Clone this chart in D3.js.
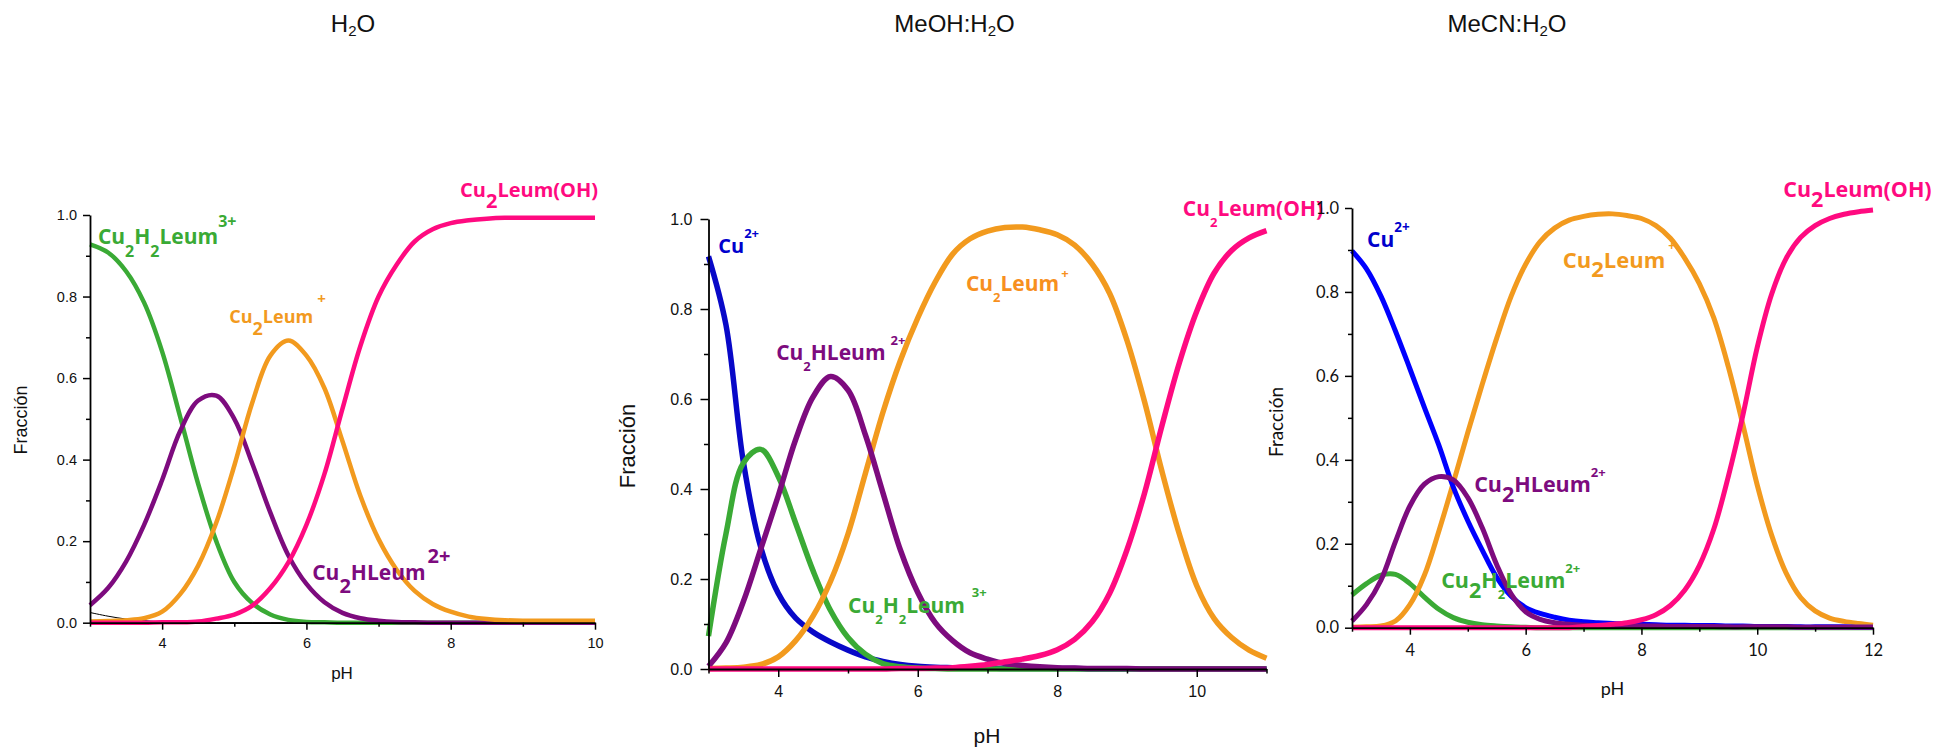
<!DOCTYPE html>
<html>
<head>
<meta charset="utf-8">
<script src="https://cdn.jsdelivr.net/npm/d3@7"></script>
<style>
	body { margin: 0; background: #fff; }
	svg { display: block; }
</style>
</head>
<body>
<svg id="chart" width="1933" height="749"></svg>
<script>
// ---- H2O ----
const phH2O = [3, 3.25, 3.5, 3.75, 4, 4.25, 4.5, 4.75, 5, 5.25, 5.5, 5.75, 6, 6.25, 6.5, 6.75, 7, 7.25, 7.5, 7.75, 8, 8.25, 8.5, 8.75, 9, 9.25, 9.5, 9.75, 10];
const h2oBlack = [0.025, 0.016, 0.009, 0.005, 0.002, 0.001, 0, 0, 0, 0, 0, 0, 0, 0, 0, 0, 0, 0, 0, 0, 0, 0, 0, 0, 0, 0, 0, 0, 0];
const h2oCu2H2L = [0.928, 0.908, 0.862, 0.785, 0.665, 0.505, 0.34, 0.2, 0.1, 0.048, 0.02, 0.007, 0.002, 0.001, 0, 0, 0, 0, 0, 0, 0, 0, 0, 0, 0, 0, 0, 0, 0];
const h2oCu2HL = [0.043, 0.085, 0.15, 0.24, 0.35, 0.47, 0.545, 0.557, 0.5, 0.39, 0.27, 0.165, 0.095, 0.05, 0.024, 0.011, 0.005, 0.002, 0.001, 0, 0, 0, 0, 0, 0, 0, 0, 0, 0];
const h2oCu2L = [0.003, 0.004, 0.006, 0.011, 0.027, 0.07, 0.14, 0.245, 0.385, 0.54, 0.655, 0.692, 0.655, 0.575, 0.445, 0.31, 0.205, 0.13, 0.078, 0.046, 0.027, 0.015, 0.009, 0.006, 0.005, 0.005, 0.005, 0.005, 0.005];
const h2oCu2LOH = [0, 0, 0, 0, 0.001, 0.001, 0.003, 0.01, 0.02, 0.042, 0.085, 0.148, 0.24, 0.365, 0.525, 0.68, 0.8, 0.878, 0.935, 0.965, 0.98, 0.987, 0.991, 0.993, 0.993, 0.993, 0.993, 0.993, 0.993];

// ---- MeOH:H2O ----
const phMeOH = [3, 3.25, 3.5, 3.75, 4, 4.25, 4.5, 4.75, 5, 5.25, 5.5, 5.75, 6, 6.25, 6.5, 6.75, 7, 7.25, 7.5, 7.75, 8, 8.25, 8.5, 8.75, 9, 9.25, 9.5, 9.75, 10, 10.25, 10.5, 10.75, 11];
const meohCu = [0.917, 0.765, 0.46, 0.27, 0.168, 0.113, 0.082, 0.06, 0.042, 0.027, 0.017, 0.01, 0.006, 0.004, 0.003, 0.002, 0.002, 0.001, 0.001, 0.001, 0.001, 0.001, 0, 0, 0, 0, 0, 0, 0, 0, 0, 0, 0];
const meohCu2H2L = [0.073, 0.3, 0.458, 0.488, 0.428, 0.324, 0.218, 0.13, 0.07, 0.033, 0.012, 0.005, 0.002, 0.001, 0, 0, 0, 0, 0, 0, 0, 0, 0, 0, 0, 0, 0, 0, 0, 0, 0, 0, 0];
const meohCu2L = [0.001, 0.002, 0.004, 0.01, 0.027, 0.063, 0.118, 0.195, 0.3, 0.435, 0.57, 0.685, 0.78, 0.86, 0.922, 0.956, 0.973, 0.981, 0.982, 0.976, 0.965, 0.942, 0.9, 0.835, 0.73, 0.595, 0.44, 0.3, 0.185, 0.112, 0.07, 0.042, 0.024];
const meohCu2HL = [0.006, 0.058, 0.15, 0.267, 0.385, 0.51, 0.605, 0.65, 0.62, 0.52, 0.392, 0.265, 0.17, 0.103, 0.063, 0.036, 0.022, 0.012, 0.008, 0.005, 0.003, 0.002, 0.001, 0.001, 0.001, 0, 0, 0, 0, 0, 0, 0, 0];
const meohCu2LOH = [0, 0, 0, 0, 0, 0, 0, 0, 0, 0, 0, 0.001, 0.001, 0.002, 0.003, 0.006, 0.01, 0.016, 0.022, 0.03, 0.043, 0.066, 0.105, 0.168, 0.265, 0.39, 0.54, 0.68, 0.795, 0.88, 0.93, 0.958, 0.974];

// ---- MeCN:H2O ----
const phMeCN = [3, 3.25, 3.5, 3.75, 4, 4.25, 4.5, 4.75, 5, 5.25, 5.5, 5.75, 6, 6.25, 6.5, 6.75, 7, 7.25, 7.5, 7.75, 8, 8.25, 8.5, 8.75, 9, 9.25, 9.5, 9.75, 10, 10.25, 10.5, 10.75, 11, 11.25, 11.5, 11.75, 12];
const mecnCu2H2L = [0.078, 0.105, 0.125, 0.127, 0.105, 0.073, 0.044, 0.024, 0.013, 0.007, 0.004, 0.002, 0.001, 0, 0, 0, 0, 0, 0, 0, 0, 0, 0, 0, 0, 0, 0, 0, 0, 0, 0, 0, 0, 0, 0, 0, 0];
const mecnCu2L = [0.001, 0.002, 0.004, 0.016, 0.055, 0.125, 0.23, 0.345, 0.465, 0.58, 0.69, 0.79, 0.866, 0.92, 0.952, 0.971, 0.98, 0.985, 0.986, 0.982, 0.975, 0.958, 0.928, 0.88, 0.82, 0.738, 0.622, 0.485, 0.34, 0.22, 0.13, 0.072, 0.04, 0.023, 0.015, 0.01, 0.006];
const mecnCu = [0.898, 0.855, 0.79, 0.707, 0.617, 0.525, 0.435, 0.335, 0.255, 0.185, 0.12, 0.075, 0.048, 0.034, 0.025, 0.018, 0.014, 0.012, 0.01, 0.009, 0.008, 0.007, 0.006, 0.006, 0.005, 0.005, 0.004, 0.004, 0.003, 0.003, 0.003, 0.002, 0.002, 0.002, 0.002, 0.001, 0.001];
const mecnCu2HL = [0.016, 0.055, 0.113, 0.205, 0.29, 0.342, 0.36, 0.352, 0.31, 0.238, 0.15, 0.08, 0.038, 0.02, 0.012, 0.008, 0.006, 0.005, 0.005, 0.004, 0.004, 0.004, 0.003, 0.003, 0.003, 0.003, 0.002, 0.002, 0.002, 0.002, 0.002, 0.001, 0.001, 0.001, 0.001, 0.001, 0.001];
const mecnCu2LOH = [0, 0, 0, 0, 0, 0, 0, 0, 0, 0, 0, 0, 0, 0, 0, 0, 0.003, 0.005, 0.008, 0.012, 0.019, 0.031, 0.053, 0.09, 0.148, 0.235, 0.36, 0.505, 0.668, 0.795, 0.88, 0.93, 0.958, 0.975, 0.985, 0.991, 0.995];

// ticks
const yTicks = [0, 0.2, 0.4, 0.6, 0.8, 1.0];
const yMinorTicks = [0.1, 0.3, 0.5, 0.7, 0.9];
const h2oXTicks = [4, 6, 8, 10];
const h2oXMinor = [3, 5, 7, 9];
const meohXTicks = [4, 6, 8, 10];
const meohXMinor = [3, 5, 7, 9, 11];
const mecnXTicks = [4, 6, 8, 10, 12];
const mecnXMinor = [3, 5, 7, 9, 11];

const titles = [["H", "2", "O"], ["MeOH:H", "2", "O"], ["MeCN:H", "2", "O"]];

const GREEN = "#3aaa35", PURPLE = "#7d0b7e", ORANGE = "#f29a1e", PINK = "#ff0a80";

class SpeciationPanel {
	constructor(svg, opts) {
		this.svg = svg;
		this.o = opts;
		this.x = d3.scaleLinear()
			.domain(opts.xDomain)
			.range(opts.xRange);
		this.y = d3.scaleLinear()
			.domain([0, 1])
			.range(opts.yRange);
		this.g = svg.append("g");
	}

	draw() {
		const o = this.o, x = this.x, y = this.y, g = this.g;
		const axisFont = o.axisFont;

		const line = d3.line()
			.x(d => x(d[0]))
			.y(d => Math.min(y(d[1]), o.yRange[0]))
			.curve(d3.curveCatmullRom.alpha(0.5));

		o.series.forEach(s => {
			g.append("path")
				.datum(o.ph.map((p, i) => [p, s.values[i]]))
				.attr("fill", "none")
				.attr("stroke", s.color)
				.attr("stroke-width", s.width || o.lineWidth)
				.attr("d", line);
		});

		// axes
		const xAxis = g.append("g")
			.attr("transform", `translate(0,${o.yRange[0]})`)
			.call(d3.axisBottom(x).tickValues(o.xTicks).tickSize(o.tick).tickSizeOuter(0)
				.tickPadding(o.xPad).tickFormat(d3.format("d")));
		g.append("g")
			.attr("transform", `translate(0,${o.yRange[0]})`)
			.call(d3.axisBottom(x).tickValues(o.xMinor).tickSize(o.minorTick).tickSizeOuter(0).tickFormat(""))
			.select(".domain").remove();

		const yAxis = g.append("g")
			.attr("transform", `translate(${o.xRange[0]},0)`)
			.call(d3.axisLeft(y).tickValues(yTicks).tickSize(o.tick).tickSizeOuter(0)
				.tickPadding(o.yPad).tickFormat(d3.format(".1f")));
		g.append("g")
			.attr("transform", `translate(${o.xRange[0]},0)`)
			.call(d3.axisLeft(y).tickValues(yMinorTicks).tickSize(o.minorTick).tickSizeOuter(0).tickFormat(""))
			.select(".domain").remove();

		g.selectAll(".domain").attr("stroke", "#000").attr("stroke-width", 1.8);
		g.selectAll(".tick line").attr("stroke", "#000").attr("stroke-width", 1.5);
		[xAxis, yAxis].forEach(a => a.selectAll("text")
			.attr("fill", "#111")
			.style("font-family", axisFont)
			.style("font-size", o.tickFont + "px"));

		// axis titles
		g.append("text")
			.attr("transform", `translate(${o.yTitle[0]},${o.yTitle[1]}) rotate(-90)`)
			.attr("text-anchor", "middle")
			.style("font-family", axisFont)
			.style("font-size", o.yTitleFont + "px")
			.attr("fill", "#111")
			.text("Fracción");

		g.append("text")
			.attr("x", o.xTitle[0])
			.attr("y", o.xTitle[1])
			.attr("text-anchor", "middle")
			.style("font-family", axisFont)
			.style("font-size", o.xTitleFont + "px")
			.attr("fill", "#111")
			.text("pH");

		// panel title
		const t = g.append("text")
			.attr("x", o.title[0])
			.attr("y", 31.5)
			.attr("text-anchor", "middle")
			.style("font-family", "'Liberation Sans', Arial, sans-serif")
			.style("font-size", "24px")
			.attr("fill", "#111");
		t.append("tspan").text(o.titleText[0]);
		t.append("tspan").attr("dy", 4.5).style("font-size", "15px").text(o.titleText[1]);
		t.append("tspan").attr("dy", -4.5).text(o.titleText[2]);

		// species labels
		o.labels.forEach(lab => {
			const txt = g.append("text")
				.attr("x", x(lab.ph))
				.attr("y", y(lab.v))
				.attr("fill", lab.color)
				.style("font-family", "'Open Sans', sans-serif")
				.style("font-weight", 700);
			let cur = 0;
			lab.parts.forEach(p => {
				txt.append("tspan")
					.attr("dy", p[2] - cur)
					.attr("dx", p[3] || 0)
					.style("font-size", p[1] + "px")
					.text(p[0]);
				cur = p[2];
			});
		});
	}
}

const svg = d3.select("#chart");
svg.append("rect").attr("width", 1933).attr("height", 749).attr("fill", "#fff");

const arial = "'Liberation Sans', Arial, sans-serif";

const panels = [
	new SpeciationPanel(svg, {
		ph: phH2O, xDomain: [3, 10], xRange: [90, 595], yRange: [622.7, 215],
		xTicks: h2oXTicks, xMinor: h2oXMinor, tick: 7, minorTick: 4, xPad: 8, yPad: 6,
		axisFont: arial, tickFont: 14.5, yTitleFont: 18, xTitleFont: 17,
		yTitle: [27, 420], xTitle: [342, 679], title: [353, 0], titleText: titles[0], lineWidth: 4.5,
		series: [
			{values: h2oBlack, color: "#000", width: 1},
			{values: h2oCu2H2L, color: GREEN},
			{values: h2oCu2HL, color: PURPLE},
			{values: h2oCu2L, color: ORANGE},
			{values: h2oCu2LOH, color: PINK}
		],
		labels: [
			{ph: 3.11, v: 0.929, color: GREEN, parts: [["Cu", 21, 0], ["2", 16, 13], ["H", 21, 0], ["2", 16, 13], ["Leum", 21, 0], ["3+", 16, -17]]},
			{ph: 4.93, v: 0.735, color: ORANGE, parts: [["Cu", 18, 0], ["2", 18, 12], ["Leum", 18, 0], ["+", 15, -19, 4]]},
			{ph: 8.13, v: 1.044, color: PINK, parts: [["Cu", 20, 0], ["2", 20, 11], ["Leum(OH)", 20, 0]]},
			{ph: 6.08, v: 0.105, color: PURPLE, parts: [["Cu", 21, 0], ["2", 20, 13], ["HLeum", 21, 0], ["2+", 20, -17, 2]]}
		]
	}),
	new SpeciationPanel(svg, {
		ph: phMeOH, xDomain: [3, 11], xRange: [708.5, 1266.5], yRange: [669, 219],
		xTicks: meohXTicks, xMinor: meohXMinor, tick: 8, minorTick: 4.5, xPad: 9, yPad: 8,
		axisFont: arial, tickFont: 16, yTitleFont: 22, xTitleFont: 21,
		yTitle: [635, 446], xTitle: [987, 743], title: [954.5, 0], titleText: titles[1], lineWidth: 5.5,
		series: [
			{values: meohCu, color: "#0808c8"},
			{values: meohCu2H2L, color: GREEN},
			{values: meohCu2L, color: ORANGE},
			{values: meohCu2HL, color: PURPLE},
			{values: meohCu2LOH, color: PINK}
		],
		labels: [
			{ph: 3.14, v: 0.924, color: "#0000cd", parts: [["Cu", 20, 0], ["2+", 13, -15]]},
			{ph: 3.97, v: 0.687, color: PURPLE, parts: [["Cu", 21, 0], ["2", 13, 11], ["HLeum", 21, 0], ["2+", 13, -15, 5]]},
			{ph: 6.69, v: 0.84, color: "#f7901e", parts: [["Cu", 21, 0], ["2", 13, 11], ["Leum", 21, 0], ["+", 13, -13, 2]]},
			{ph: 9.80, v: 1.007, color: PINK, parts: [["Cu", 21, 0], ["2", 13, 11], ["Leum(OH)", 21, 0]]},
			{ph: 5.0, v: 0.124, color: GREEN, parts: [["Cu", 21, 0], ["2", 13, 11], ["H", 21, 0], ["2", 13, 11], ["Leum", 21, 0], ["3+", 13, -16, 7]]}
		]
	}),
	new SpeciationPanel(svg, {
		ph: phMeCN, xDomain: [3, 12], xRange: [1352, 1873], yRange: [627.7, 208],
		xTicks: mecnXTicks, xMinor: mecnXMinor, tick: 7, minorTick: 4, xPad: 10, yPad: 6,
		axisFont: "Lato, sans-serif", tickFont: 16.5, yTitleFont: 19, xTitleFont: 18,
		yTitle: [1283, 422], xTitle: [1612.5, 695], title: [1507, 0], titleText: titles[2], lineWidth: 5,
		series: [
			{values: mecnCu2H2L, color: GREEN},
			{values: mecnCu2L, color: ORANGE},
			{values: mecnCu, color: "#0000ff"},
			{values: mecnCu2HL, color: PURPLE},
			{values: mecnCu2LOH, color: PINK}
		],
		labels: [
			{ph: 3.26, v: 0.907, color: "#0000cc", parts: [["Cu", 21, 0], ["2+", 13.5, -15]]},
			{ph: 6.64, v: 0.856, color: ORANGE, parts: [["Cu", 22, 0], ["2", 22, 9], ["Leum", 22, 0], ["+", 12, -18, 3]]},
			{ph: 10.45, v: 1.027, color: PINK, parts: [["Cu", 21.5, 0], ["2", 21.5, 10], ["Leum(OH)", 21.5, 0]]},
			{ph: 5.11, v: 0.323, color: PURPLE, parts: [["Cu", 21.5, 0], ["2", 21.5, 10], ["HLeum", 21.5, 0], ["2+", 13, -15]]},
			{ph: 4.54, v: 0.095, color: GREEN, parts: [["Cu", 21.5, 0], ["2", 21.5, 10], ["H", 21.5, 0], ["2", 13, 11], ["Leum", 21.5, 0], ["2+", 13, -15]]}
		]
	})
];

panels.forEach(p => p.draw());
</script>
</body>
</html>
